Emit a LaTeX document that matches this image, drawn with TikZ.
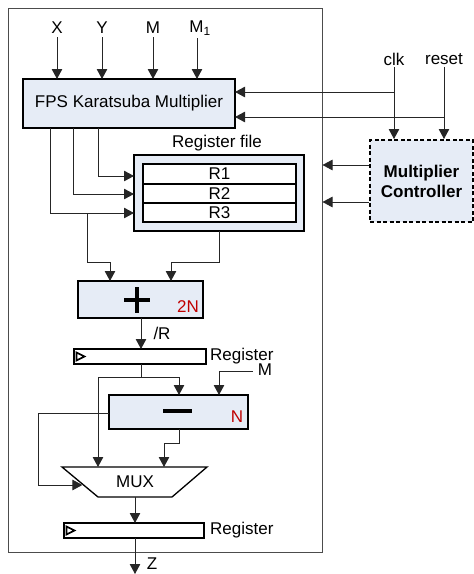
\documentclass[tikz,border=0pt]{standalone}
\usepackage{fontspec}
\setmainfont{Liberation Sans}
\usetikzlibrary{arrows.meta}
\definecolor{boxblue}{HTML}{E6ECF6}
\definecolor{numred}{HTML}{C00000}
\begin{document}
\begin{tikzpicture}[x=1pt,y=-1pt,
  font=\fontsize{17}{19}\selectfont,
  wire/.style={line width=0.9pt, draw=black!85},
  conn/.style={wire, -{Triangle[length=10pt,width=10.5pt]}},
  bluebox/.style={draw, line width=2.4pt, fill=boxblue, inner sep=0pt, outer sep=0pt},
  regrow/.style={draw, line width=2pt, fill=white, inner sep=0pt, outer sep=0pt, minimum width=153pt, minimum height=19.3pt},
  regbar/.style={draw, line width=2pt, fill=white, inner sep=0pt, outer sep=0pt, minimum height=15pt},
  lbl/.style={inner sep=1pt},
  clkmark/.style={line width=1.6pt, line join=miter}
]
\useasboundingbox (0,0) rectangle (474,574);

% outer frame
\node[draw=black!70, line width=1pt, minimum width=314pt, minimum height=544pt, inner sep=0pt] (frame) at (165,280) {};

% multiplier
\node[bluebox, minimum width=212pt, minimum height=49pt] (fps) at (129,103.5) {FPS Karatsuba Multiplier};

% inputs
\node[lbl] (inX) at (57,28) {X};
\node[lbl] (inY) at (102,28) {Y};
\node[lbl] (inM) at (153,28) {M};
\node[lbl] (inMa) at (200,28) {M\textsubscript{1}};
\foreach \n in {inX,inY,inM}{
  \draw[conn] ([yshift=-2pt]\n.south) -- (\n.south |- fps.north);
}
\draw[conn] ([xshift=-3pt,yshift=-2pt]inMa.south) -- ([xshift=-3pt]inMa.south |- fps.north);

% controller
\node[draw, line width=2pt, dash pattern=on 4pt off 2.5pt, fill=boxblue, minimum width=103pt, minimum height=82pt, inner sep=0pt, align=center, font=\fontsize{17}{20}\selectfont\bfseries] (ctrl) at (421.5,181) {Multiplier\\Controller};
\node[lbl] (clk) at (394,59) {clk};
\node[lbl] (reset) at (444,59) {reset};
\draw[conn] ([yshift=-1pt]clk.south) -- (clk.south |- ctrl.north);
\draw[conn] ([yshift=-1pt]reset.south) -- (reset.south |- ctrl.north);
\coordinate (clkj) at (394,92);
\coordinate (rstj) at (444,117);
\draw[conn] (clkj) -- (clkj -| fps.east);
\draw[conn] (rstj) -- (rstj -| fps.east);
\coordinate (c1) at (370,165);
\coordinate (c2) at (370,202);
\draw[conn] (c1 -| ctrl.west) -- (c1 -| frame.east);
\draw[conn] (c2 -| ctrl.west) -- (c2 -| frame.east);

% register file
\node[bluebox, minimum width=170pt, minimum height=76pt] (rf) at (219,193) {};
\node[lbl] (rflbl) at (217,143) {Register file};
\node[regrow] (r1) at (219.5,174) {R1};
\node[regrow] (r2) at (219.5,193.3) {R2};
\node[regrow] (r3) at (219.5,212.6) {R3};

\coordinate (a1) at (98,176);
\coordinate (a2) at (73,194);
\coordinate (a3) at (50,213);
\draw[conn] (a1 |- fps.south) |- (a1 -| rf.west);
\draw[conn] (a2 |- fps.south) |- (a2 -| rf.west);
\draw[conn] (a3 |- fps.south) |- (a3 -| rf.west);

% adder
\node[bluebox, minimum width=125pt, minimum height=37pt] (add) at (140.5,299.5) {};
\draw[line width=3.5pt] (124,300) -- (150,300) (137,287) -- (137,313);
\node[lbl, text=numred] (twoN) at (188,307) {2N};

\coordinate (b1) at (87,262);
\coordinate (b2) at (110,262);
\coordinate (b3) at (219,262);
\coordinate (b4) at (171,262);
\draw[wire] (a3 -| b1) -- (b1) -- (b2);
\draw[conn] (b2) -- (b2 |- add.north);
\draw[wire] (b3 |- rf.south) -- (b3) -- (b4);
\draw[conn] (b4) -- (b4 |- add.north);

% register 1
\node[regbar, minimum width=132pt] (reg1) at (140,356.5) {};
\draw[clkmark] ([xshift=2.5pt,yshift=4pt]reg1.west) -- ++(8,4) -- ++(-8,4) -- cycle;
\node[lbl, anchor=west] (reg1lbl) at (209,356) {Register};
\coordinate (d0) at (141,318);
\draw[conn] (d0 |- add.south) -- (d0 |- reg1.north);
\node[lbl] (rlbl) at (162,333) {/R};

% subtractor
\node[bluebox, minimum width=139pt, minimum height=34pt] (sub) at (178.5,412) {};
\draw[line width=4pt] (163,411) -- (192,411);
\node[lbl, text=numred] (oneN) at (237,417) {N};

\coordinate (e0) at (141,377);
\coordinate (e1) at (98,377);
\coordinate (e2) at (179,377);
\draw[wire] (e0 |- reg1.south) -- (e0);
\draw[wire] (e1) -- (e2);
\draw[conn] (e2) -- (e2 |- sub.north);

\node[lbl] (inM2) at (265,370) {M};
\coordinate (m2) at (219,371);
\draw[conn] ([xshift=-4pt]inM2.west |- m2) -| (m2 |- sub.north);

% mux
\coordinate (muxTL) at (62,467);
\coordinate (muxTR) at (207,467);
\coordinate (muxBR) at (172,497);
\coordinate (muxBL) at (98,497);
\draw[line width=1.3pt, fill=white, line join=miter] (muxTL) -- (muxTR) -- (muxBR) -- (muxBL) -- cycle;
\node[lbl] (mux) at (135,482) {MUX};
\draw[conn] (e1) -- (e1 |- muxTL);

\coordinate (f1) at (38,413);
\coordinate (f2) at (38,485);
\coordinate (muxL) at (82.4,485);
\draw[conn] (f1 -| sub.west) -- (f1) -- (f2) -- (muxL);

\coordinate (g1) at (179,443);
\coordinate (g2) at (164,443);
\draw[wire] (g1 |- sub.south) -- (g1) -- (g2);
\draw[conn] (g2) -- (g2 |- muxTL);

% register 2
\node[regbar, minimum width=140pt] (reg2) at (134,530.5) {};
\draw[clkmark] ([xshift=2.5pt,yshift=4pt]reg2.west) -- ++(8,4) -- ++(-8,4) -- cycle;
\node[lbl, anchor=west] (reg2lbl) at (209,530) {Register};
\coordinate (h0) at (135,497);
\draw[conn] (h0) -- (h0 |- reg2.north);
\coordinate (zout) at (135,574);
\draw[conn] (h0 |- reg2.south) -- (zout);
\node[lbl] (zlbl) at (152,564) {Z};
\end{tikzpicture}
\end{document}
